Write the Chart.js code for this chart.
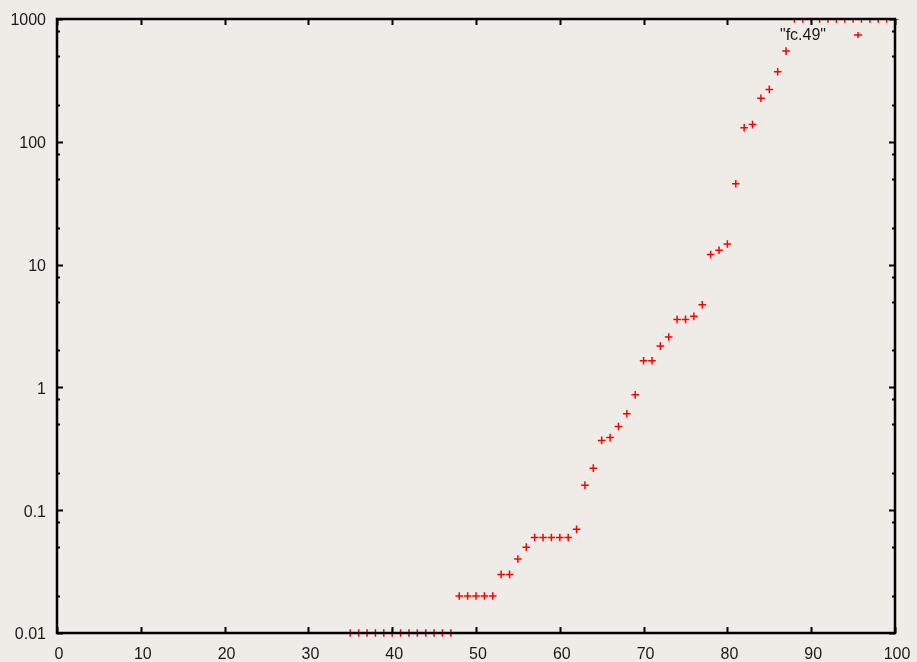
<!DOCTYPE html>
<html>
<head>
<meta charset="utf-8">
<script src="https://cdn.jsdelivr.net/npm/chart.js@4.4.1/dist/chart.umd.min.js"></script>
<style>
  html, body { margin: 0; padding: 0; background: #efebe7; }
  canvas { display: block; }
</style>
</head>
<body>
<canvas id="plot" width="917" height="662"></canvas>
<script>
// values (x = index, y = value on log scale)
const xValues = [35, 36, 37, 38, 39, 40, 41, 42, 43, 44, 45, 46, 47,
  48, 49, 50, 51, 52, 53, 54, 55, 56, 57, 58, 59, 60, 61, 62,
  63, 64, 65, 66, 67, 68, 69, 70, 71, 72, 73, 74, 75, 76, 77,
  78, 79, 80, 81, 82, 83, 84, 85, 86, 87,
  88, 89, 90, 91, 92, 93, 94, 95, 96, 97, 98, 99, 100];
const yValues = [0.01, 0.01, 0.01, 0.01, 0.01, 0.01, 0.01, 0.01, 0.01, 0.01, 0.01, 0.01, 0.01,
  0.02, 0.02, 0.02, 0.02, 0.02, 0.03, 0.03, 0.04, 0.05, 0.06, 0.06, 0.06, 0.06, 0.06, 0.07,
  0.16, 0.22, 0.37, 0.39, 0.48, 0.61, 0.87, 1.65, 1.65, 2.17, 2.57, 3.58, 3.58, 3.79, 4.71,
  12.1, 13.1, 14.7, 45.6, 130, 138, 226, 267, 372, 548,
  1000, 1000, 1000, 1000, 1000, 1000, 1000, 1000, 1000, 1000, 1000, 1000, 1000];

const seriesLabel = '"fc.49"';
const yTickValues = [0.01, 0.1, 1, 10, 100, 1000];
const yTickLabels = ['0.01', '0.1', '1', '10', '100', '1000'];
const yMinorSteps = [2, 5, 8];
const xTickValues = [0, 10, 20, 30, 40, 50, 60, 70, 80, 90, 100];

const red = '#ff0000';
const font = { family: '"Liberation Sans", Arial, sans-serif', size: 16 };

// gnuplot-style frame: border, inward ticks, legend in the top right
const framePlugin = {
  id: 'frame',
  afterDatasetsDraw(c) {
    const ctx = c.ctx;
    const a = c.chartArea;
    const xs = c.scales.x, ys = c.scales.y;
    ctx.save();
    ctx.strokeStyle = '#000';
    ctx.lineWidth = 2;
    ctx.beginPath();
    xTickValues.forEach(v => {
      const px = Math.round(xs.getPixelForValue(v)) + 0.5;
      ctx.moveTo(px, a.bottom); ctx.lineTo(px, a.bottom - 6);
      ctx.moveTo(px, a.top); ctx.lineTo(px, a.top + 6);
    });
    yTickValues.forEach(v => {
      const py = Math.round(ys.getPixelForValue(v)) + 0.5;
      ctx.moveTo(a.left, py); ctx.lineTo(a.left + 6, py);
      ctx.moveTo(a.right, py); ctx.lineTo(a.right - 6, py);
    });
    yTickValues.slice(0, -1).forEach(d => {
      yMinorSteps.forEach(m => {
        const py = Math.round(ys.getPixelForValue(d * m)) + 0.5;
        ctx.moveTo(a.left, py); ctx.lineTo(a.left + 3, py);
        ctx.moveTo(a.right, py); ctx.lineTo(a.right - 3, py);
      });
    });
    ctx.stroke();

    ctx.lineWidth = 2.5;
    ctx.strokeRect(a.left, a.top, a.right - a.left, a.bottom - a.top);

    // key
    ctx.fillStyle = '#1a1a1a';
    ctx.font = font.size + 'px ' + font.family;
    ctx.textAlign = 'right';
    ctx.textBaseline = 'middle';
    ctx.fillText(seriesLabel, a.right - 69, a.top + 17);
    const kx = a.right - 37, ky = a.top + 16;
    ctx.strokeStyle = red;
    ctx.lineWidth = 1.5;
    ctx.beginPath();
    ctx.moveTo(kx - 4, ky); ctx.lineTo(kx + 4, ky);
    ctx.moveTo(kx, ky - 3); ctx.lineTo(kx, ky + 3);
    ctx.stroke();
    ctx.restore();
  }
};

new Chart(document.getElementById('plot'), {
  type: 'scatter',
  data: {
    datasets: [{
      label: seriesLabel,
      data: xValues.map((x, i) => ({ x, y: yValues[i] })),
      pointStyle: 'cross',
      pointRadius: 3.8,
      pointBorderWidth: 1.5,
      borderColor: red,
      backgroundColor: red,
      clip: { top: 0, bottom: 5, left: 5, right: 5 }
    }]
  },
  options: {
    responsive: false,
    animation: false,
    devicePixelRatio: 1,
    layout: { padding: { top: 19, right: 22, left: 0, bottom: 0 } },
    plugins: {
      legend: { display: false },
      tooltip: { enabled: false }
    },
    scales: {
      x: {
        type: 'linear',
        min: 0,
        max: 100,
        grid: { display: false, drawTicks: false },
        border: { display: false },
        afterBuildTicks: s => { s.ticks = xTickValues.map(v => ({ value: v })); },
        afterFit: s => { s.height = 29; s.paddingLeft = 0; s.paddingRight = 0; },
        ticks: { color: '#1a1a1a', font, padding: 12, labelOffset: 2, maxRotation: 0, autoSkip: false }
      },
      y: {
        type: 'logarithmic',
        min: 0.01,
        max: 1000,
        grid: { display: false, drawTicks: false },
        border: { display: false },
        afterBuildTicks: s => { s.ticks = yTickValues.map(v => ({ value: v })); },
        afterFit: s => { s.width = 57; s.paddingTop = 0; s.paddingBottom = 0; },
        ticks: {
          color: '#1a1a1a',
          font,
          padding: 11,
          labelOffset: 2,
          autoSkip: false,
          callback: (v) => yTickLabels[yTickValues.indexOf(v)]
        }
      }
    }
  },
  plugins: [framePlugin]
});
</script>
</body>
</html>
